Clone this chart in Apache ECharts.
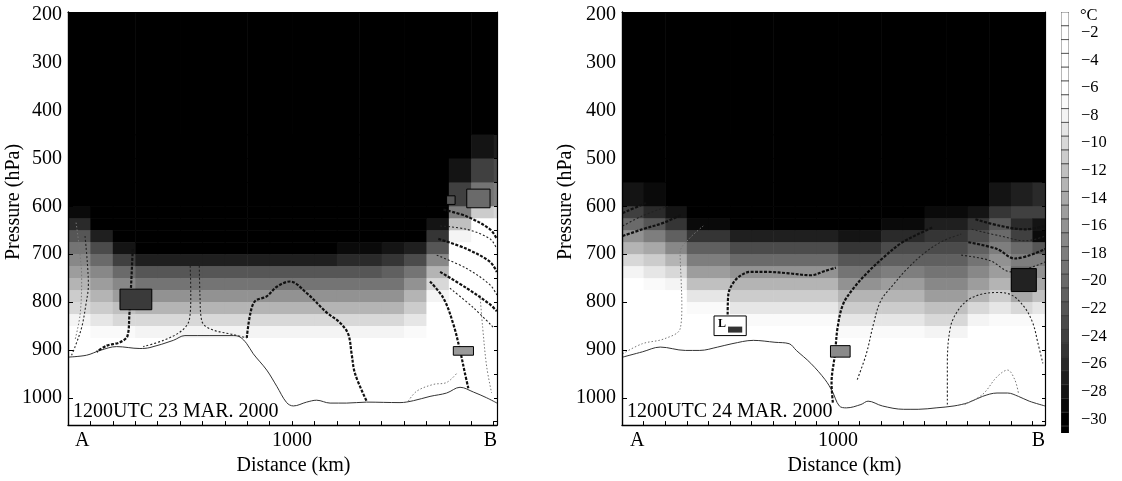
<!DOCTYPE html>
<html>
<head>
<meta charset="utf-8">
<script src="https://cdn.jsdelivr.net/npm/echarts@6/dist/echarts.min.js"></script>
<style>
  html, body { margin: 0; padding: 0; background: #fff; }
  #chart { width: 1122px; height: 481px; }
</style>
</head>
<body>
<div id="chart"></div>
<script>
const FONT = '"Liberation Serif", "Times New Roman", serif'

// cell edges of the shaded temperature field
const distanceEdges = [0, 100, 200, 300, 400, 500, 600, 700, 800, 900, 1000, 1100, 1200, 1300, 1400, 1500, 1600, 1700, 1800, 1900, 2000]
const pressureEdges = [190, 450, 500, 550, 600, 625, 650, 675, 700, 725, 750, 775, 800, 825, 850, 875, 900, 1060]

// temperature (°C), one row per pressure band, one column per 100 km
const tempMar23 = [
  [-32, -32, -32, -32, -32, -32, -32, -32, -32, -32, -32, -32, -32, -32, -32, -32, -32, -32, -32, -32],
  [-32, -32, -32, -32, -32, -32, -32, -32, -32, -32, -32, -32, -32, -32, -32, -32, -32, -31, -28, -27],
  [-32, -32, -32, -32, -32, -32, -32, -32, -32, -32, -32, -32, -32, -32, -32, -32, -32, -28, -24, -23],
  [-31, -32, -32, -32, -32, -32, -32, -32, -32, -32, -32, -32, -32, -32, -32, -32, -31, -24, -19, -18],
  [-29, -31, -32, -32, -32, -32, -32, -32, -32, -32, -32, -32, -32, -32, -32, -32, -30, -18, -11, -10],
  [-26, -30, -32, -32, -32, -32, -32, -32, -32, -32, -32, -32, -32, -32, -32, -31, -28, -12, -6, -6],
  [-22, -27, -31, -32, -32, -32, -32, -32, -32, -32, -32, -32, -32, -32, -31, -30, -25, -8, -4, -4],
  [-19, -23, -28, -30, -30, -30, -30, -30, -30, -30, -30, -30, -29, -29, -28, -27, -22, -6, -4, -3],
  [-17, -20, -24, -27, -27, -27, -27, -27, -27, -27, -27, -27, -26, -26, -25, -23, -17, -5, -3, -3],
  [-15, -17, -20, -22, -22, -22, -22, -22, -22, -22, -22, -22, -22, -22, -21, -19, -13, -4, -3, -3],
  [-13, -15, -17, -19, -19, -19, -19, -19, -19, -19, -19, -19, -19, -19, -19, -16, -10, -4, -2, -2],
  [-11, -13, -15, -16, -16, -16, -16, -16, -16, -16, -16, -16, -16, -16, -16, -13, -8, -3, -2, -2],
  [-10, -11, -12, -13, -13, -13, -13, -13, -13, -13, -13, -13, -13, -13, -13, -11, -6, -3, -2, -2],
  [-8, -9, -10, -10, -10, -10, -10, -10, -10, -10, -10, -10, -10, -10, -10, -9, -5, -3, -2, -2],
  [-6, -7, -7, -8, -8, -8, -8, -8, -8, -8, -8, -8, -8, -8, -8, -7, -4, -2, -2, -2],
  [-4, -5, -5, -5, -5, -5, -5, -5, -5, -5, -5, -5, -5, -5, -5, -5, -3, -2, -2, -2],
  [-3, -3, -3, -3, -3, -3, -3, -3, -3, -3, -3, -3, -3, -3, -3, -3, -3, -3, -3, -3]
]

const tempMar24 = [
  [-32, -32, -32, -32, -32, -32, -32, -32, -32, -32, -32, -32, -32, -32, -32, -32, -32, -32, -32, -32],
  [-32, -32, -32, -32, -32, -32, -32, -32, -32, -32, -32, -32, -32, -32, -32, -32, -32, -32, -32, -32],
  [-32, -32, -32, -32, -32, -32, -32, -32, -32, -32, -32, -32, -32, -32, -32, -32, -32, -32, -32, -32],
  [-28, -29, -31, -32, -32, -32, -32, -32, -32, -32, -32, -32, -32, -32, -32, -32, -31, -28, -27, -26],
  [-24, -26, -28, -31, -31, -32, -32, -32, -32, -32, -32, -32, -31, -31, -29, -29, -28, -25, -24, -24],
  [-20, -22, -25, -29, -29, -30, -30, -30, -30, -30, -30, -30, -29, -29, -27, -27, -25, -22, -26, -28],
  [-16, -18, -21, -25, -25, -27, -27, -27, -27, -27, -28, -28, -26, -26, -25, -25, -23, -20, -24, -29],
  [-13, -14, -17, -21, -21, -23, -23, -23, -23, -23, -25, -25, -23, -23, -23, -23, -21, -18, -20, -22],
  [-10, -11, -13, -18, -18, -20, -20, -20, -20, -20, -22, -22, -21, -21, -21, -21, -19, -16, -18, -18],
  [-8, -9, -10, -15, -15, -16, -16, -16, -16, -16, -19, -19, -18, -18, -19, -19, -17, -15, -20, -16],
  [-6, -7, -8, -12, -12, -13, -13, -13, -13, -13, -16, -16, -15, -15, -17, -17, -15, -13, -22, -14],
  [-4, -5, -6, -9, -9, -11, -11, -11, -11, -11, -13, -13, -13, -13, -15, -15, -13, -11, -14, -12],
  [-4, -4, -5, -7, -7, -9, -9, -9, -9, -9, -11, -11, -11, -11, -12, -12, -10, -9, -10, -9],
  [-3, -4, -4, -5, -5, -7, -7, -7, -7, -7, -9, -9, -9, -9, -10, -10, -8, -7, -7, -7],
  [-3, -3, -3, -4, -4, -5, -5, -5, -5, -5, -7, -7, -7, -7, -8, -8, -6, -5, -5, -5],
  [-3, -3, -3, -3, -3, -4, -4, -4, -4, -4, -5, -5, -5, -5, -6, -6, -5, -4, -4, -4],
  [-3, -3, -3, -3, -3, -3, -3, -3, -3, -3, -3, -3, -3, -3, -3, -3, -3, -3, -3, -3]
]

// colour bar boxes and its labels
const legendLevels = [-1, -2, -3, -4, -5, -6, -7, -8, -9, -10, -11, -12, -13, -14, -15, -16, -17, -18, -19, -20, -21, -22, -23, -24, -25, -26, -27, -28, -29, -30, -31]
const legendTicks = [-2, -4, -6, -8, -10, -12, -14, -16, -18, -20, -22, -24, -26, -28, -30]
const pressureTicks = [200, 300, 400, 500, 600, 700, 800, 900, 1000]
const edgeTicks = [200, 250, 300, 350, 400, 450, 500, 550, 600, 650, 700, 750, 800, 850, 900, 950, 1000, 1050]
const panelLengthKm = [1915, 1958]
const panelTimes = ['1200UTC 23 MAR. 2000', '1200UTC 24 MAR. 2000']

// contour lines, [distance km, pressure hPa]
const groundMar23 = [[0, 915], [83, 911], [143, 901], [217, 893], [321, 897], [366, 895], [470, 880], [522, 870], [738, 870], [768, 873], [798, 887], [827, 908], [887, 942], [932, 976], [976, 1010], [1006, 1017], [1065, 1009], [1110, 1005], [1170, 1011], [1244, 1011], [1333, 1009], [1482, 1010], [1542, 1006], [1616, 997], [1690, 990], [1750, 978], [1810, 988], [1869, 1000], [1915, 1011]]
const isoMar23a = [[76, 662], [86, 716], [91, 764], [80, 805], [61, 853], [31, 894], [16, 911]]
const isoMar23b = [[36, 634], [51, 689], [61, 750], [54, 826], [31, 880]]
const isoMar23c = [[289, 689], [281, 771], [274, 826], [266, 870], [232, 884], [173, 891], [128, 904]]
const isoMar23d = [[545, 716], [548, 785], [542, 836], [507, 860], [426, 880], [336, 893]]
const isoMar23e = [[586, 716], [589, 785], [597, 839], [634, 856], [738, 868], [798, 875]]
const isoMar23f = [[798, 875], [813, 826], [835, 798], [887, 788], [932, 768], [991, 757], [1065, 781], [1155, 822], [1214, 843], [1251, 867], [1266, 908], [1281, 949], [1333, 1007]]
const isoMar23g = [[1616, 757], [1676, 792], [1720, 846], [1750, 901], [1772, 949], [1787, 980]]
const isoMar23h = [[1519, 1007], [1557, 986], [1631, 972], [1690, 968], [1735, 949]]
const isoMar23i = [[1839, 785], [1851, 853], [1869, 935], [1891, 990]]
const fanMar23 = [
  [[1676, 607], [1780, 621], [1884, 648], [1914, 668]],
  [[1661, 641], [1780, 648], [1884, 668], [1914, 689]],
  [[1653, 668], [1780, 689], [1884, 716], [1914, 737]],
  [[1646, 702], [1780, 730], [1884, 764], [1914, 785]],
  [[1661, 737], [1780, 771], [1884, 805], [1914, 819]],
  [[1705, 771], [1810, 812], [1899, 853]]
]

const groundMar24 = [[3, 915], [94, 904], [177, 894], [293, 901], [360, 901], [443, 894], [509, 887], [608, 880], [708, 884], [774, 887], [807, 901], [874, 928], [940, 962], [973, 986], [1006, 1017], [1039, 1021], [1106, 1014], [1139, 1007], [1205, 1017], [1304, 1024], [1371, 1024], [1454, 1021], [1537, 1017], [1603, 1010], [1669, 997], [1736, 990], [1785, 990], [1835, 997], [1885, 1007], [1958, 1017]]
const isoMar24a = [[3, 908], [94, 887], [194, 877], [269, 856], [277, 805], [274, 757], [269, 696], [310, 668], [376, 641]]
const isoMar24b = [[489, 826], [492, 785], [509, 764], [542, 747], [592, 737], [675, 737], [774, 740], [874, 744], [940, 735], [990, 728]]
const isoMar24c = [[976, 1010], [970, 969], [986, 908], [998, 853], [1023, 805], [1072, 771], [1139, 737], [1205, 709], [1288, 678], [1371, 658], [1437, 644]]
const isoMar24d = [[1089, 962], [1131, 908], [1164, 846], [1197, 798], [1255, 764], [1321, 730], [1404, 696], [1487, 672], [1570, 658]]
const isoMar24e = [[1506, 1014], [1506, 928], [1520, 853], [1553, 819], [1603, 795], [1669, 783], [1736, 780], [1802, 785], [1860, 809], [1901, 843], [1926, 887], [1948, 928]]
const isoMar24f = [[1586, 1014], [1669, 993], [1736, 956], [1785, 942], [1818, 962], [1835, 990]]
const fanMar24 = [
  [[1636, 627], [1752, 641], [1868, 648], [1960, 641]],
  [[1619, 648], [1752, 662], [1868, 672], [1960, 662]],
  [[1603, 675], [1736, 689], [1818, 709], [1960, 689]],
  [[1570, 702], [1702, 713], [1802, 737], [1960, 716]],
  [[3, 662], [94, 648], [194, 634], [277, 617]],
  [[3, 641], [94, 620], [211, 600]],
  [[3, 614], [111, 593]]
]

// contour label boxes: [km from, hPa from, km to, hPa to]
const boxesMar23 = [[232, 773, 374, 816], [1780, 564, 1884, 603], [1690, 578, 1728, 596], [1720, 893, 1810, 911]]
const boxFillsMar23 = ['#3a3a3a', '#6a6a6a', '#555', '#9a9a9a']
const boxesMar24 = [[426, 829, 575, 870], [965, 891, 1056, 915], [1802, 730, 1918, 778]]
const boxFillsMar24 = ['#fff', '#8a8a8a', '#222']
const boxTextsMar24 = ['L', '', '']

const grayScale = ['#000', '#000', '#141414', '#2a2a2a', '#404040', '#565656', '#6a6a6a', '#7e7e7e', '#929292', '#a8a8a8', '#c0c0c0', '#d8d8d8', '#f4f4f4', '#fff', '#fff', '#fff', '#fff']

const chart = echarts.init(document.getElementById('chart'), null, { renderer: 'canvas' })

function fieldData(rows) {
  const out = []
  rows.forEach((row, r) => row.forEach((v, c) => out.push([c, r, v])))
  return out
}

function renderCell(params, api) {
  const c = api.value(0)
  const r = api.value(1)
  const a = api.coord([distanceEdges[c], pressureEdges[r]])
  const b = api.coord([distanceEdges[c + 1], pressureEdges[r + 1]])
  return {
    type: 'rect',
    shape: { x: a[0], y: a[1], width: b[0] - a[0] + 0.6, height: b[1] - a[1] + 0.6 },
    style: { fill: api.visual('color') }
  }
}

function renderLegendBox(params, api) {
  const level = api.value(2)
  const a = api.coord([0, level + 0.5])
  const b = api.coord([1, level - 0.5])
  return {
    type: 'rect',
    shape: { x: a[0], y: a[1], width: b[0] - a[0], height: b[1] - a[1] },
    style: { fill: api.visual('color'), stroke: '#333', lineWidth: 0.7 }
  }
}

function boxSeries(panel, boxes, fills, texts) {
  return {
    type: 'custom', xAxisIndex: panel, yAxisIndex: panel, data: boxes, clip: true, silent: true, z: 6,
    renderItem(params, api) {
      const a = api.coord([api.value(0), api.value(1)])
      const b = api.coord([api.value(2), api.value(3)])
      const i = params.dataIndex
      const children = [{
        type: 'rect',
        shape: { x: a[0], y: a[1], width: b[0] - a[0], height: b[1] - a[1] },
        style: { fill: fills[i], stroke: '#000', lineWidth: 1 }
      }]
      if (texts && texts[i]) {
        children.push({ type: 'text', x: a[0] + 4, y: a[1] + 2, style: { text: texts[i], font: 'bold 12px ' + FONT, fill: '#000' } })
        children.push({ type: 'rect', shape: { x: a[0] + 14, y: b[1] - 9, width: (b[0] - a[0]) - 18, height: 6 }, style: { fill: '#333' } })
      }
      return { type: 'group', children }
    }
  }
}

const lineStyles = {
  ground: { color: '#333', width: 1, type: 'solid' },
  thick: { color: '#111', width: 2.2, type: [3, 1.5] },
  thin: { color: '#222', width: 1.1, type: [2, 2] },
  faint: { color: '#777', width: 1, type: [1.5, 2] }
}

function iso(data, panel, kind) {
  return {
    type: 'line',
    xAxisIndex: panel,
    yAxisIndex: panel,
    data,
    symbol: 'none',
    smooth: 0.35,
    silent: true,
    z: 5,
    lineStyle: lineStyles[kind]
  }
}

const textStyle = { fontFamily: FONT, color: '#000' }

function bottomAxis(panel, padA) {
  const max = panelLengthKm[panel]
  return {
    type: 'value', gridIndex: panel, min: 0, max, interval: 100, z: 10,
    axisLine: { show: true, onZero: false, lineStyle: { color: '#000', width: 1.4 } },
    axisTick: { show: true, inside: true, length: 4, lineStyle: { color: '#000', width: 1 } },
    splitLine: { show: false },
    axisLabel: {
      ...textStyle, fontSize: 20, margin: 6,
      customValues: [0, 1000, max],
      alignMinLabel: 'left', alignMaxLabel: 'right',
      formatter: (v) => v === 0 ? '{a|A}' : (v === 1000 ? '1000' : 'B'),
      rich: { a: { ...textStyle, fontSize: 20, padding: [0, 0, 0, padA] } }
    },
    name: 'Distance (km)', nameLocation: 'middle', nameGap: 24,
    nameTextStyle: { ...textStyle, fontSize: 20, padding: [0, 0, 0, 22] }
  }
}

function topAxis(panel) {
  return {
    type: 'value', gridIndex: panel, min: 0, max: panelLengthKm[panel], position: 'top', z: 10,
    axisLine: { show: true, onZero: false, lineStyle: { color: '#000', width: 1.2 } },
    axisTick: { show: false }, axisLabel: { show: false }, splitLine: { show: false }
  }
}

function leftAxis(panel) {
  return {
    type: 'value', gridIndex: panel, inverse: true, min: 194, max: 1057, z: 10,
    axisLine: { show: true, onZero: false, lineStyle: { color: '#000', width: 1.4 } },
    axisTick: { show: true, inside: true, length: 5, customValues: pressureTicks, lineStyle: { color: '#000' } },
    splitLine: { show: false },
    axisLabel: { ...textStyle, fontSize: 20, margin: 6, customValues: pressureTicks, formatter: (v) => String(v) }
  }
}

function rightAxis(panel) {
  return {
    type: 'value', gridIndex: panel, inverse: true, min: 194, max: 1057, position: 'right', z: 10,
    axisLine: { show: true, onZero: false, lineStyle: { color: '#000', width: 1.2 } },
    axisTick: { show: true, inside: true, length: 3, customValues: edgeTicks, lineStyle: { color: '#000' } },
    axisLabel: { show: false }, splitLine: { show: false }
  }
}

const series = [
  { type: 'custom', xAxisIndex: 0, yAxisIndex: 0, data: fieldData(tempMar23), renderItem: renderCell, clip: true, silent: true, z: 1 },
  { type: 'custom', xAxisIndex: 1, yAxisIndex: 1, data: fieldData(tempMar24), renderItem: renderCell, clip: true, silent: true, z: 1 },
  { type: 'custom', xAxisIndex: 2, yAxisIndex: 2, data: legendLevels.map((l) => [0, l, l]), renderItem: renderLegendBox, clip: true, silent: true, z: 1 },

  iso(groundMar23, 0, 'ground'),
  iso(isoMar23a, 0, 'thin'),
  iso(isoMar23b, 0, 'faint'),
  iso(isoMar23c, 0, 'thick'),
  iso(isoMar23d, 0, 'thin'),
  iso(isoMar23e, 0, 'thin'),
  iso(isoMar23f, 0, 'thick'),
  iso(isoMar23g, 0, 'thick'),
  iso(isoMar23h, 0, 'faint'),
  iso(isoMar23i, 0, 'faint'),
  ...fanMar23.map((d, i) => iso(d, 0, i % 2 ? 'thin' : 'thick')),
  boxSeries(0, boxesMar23, boxFillsMar23),

  iso(groundMar24, 1, 'ground'),
  iso(isoMar24a, 1, 'faint'),
  iso(isoMar24b, 1, 'thick'),
  iso(isoMar24c, 1, 'thick'),
  iso(isoMar24d, 1, 'thin'),
  iso(isoMar24e, 1, 'thin'),
  iso(isoMar24f, 1, 'faint'),
  ...fanMar24.map((d, i) => iso(d, 1, i % 2 ? 'thin' : 'thick')),
  boxSeries(1, boxesMar24, boxFillsMar24, boxTextsMar24)
]

chart.setOption({
  animation: false,
  backgroundColor: '#fff',
  grid: [
    { left: 68, top: 12, width: 429, height: 421 },
    { left: 622, top: 12, width: 423, height: 421 },
    { left: 1061, top: 12, width: 8, height: 421 }
  ],
  xAxis: [
    bottomAxis(0, 7),
    bottomAxis(1, 8),
    { type: 'value', gridIndex: 2, min: 0, max: 1, show: false },
    topAxis(0),
    topAxis(1)
  ],
  yAxis: [
    leftAxis(0),
    leftAxis(1),
    {
      type: 'value', gridIndex: 2, min: -31, max: -0.5, position: 'right', z: 10,
      axisLine: { show: false }, axisTick: { show: false }, splitLine: { show: false },
      axisLabel: { ...textStyle, fontSize: 16.5, margin: 12, customValues: legendTicks, formatter: (v) => '\u2212' + Math.abs(v) }
    },
    rightAxis(0),
    rightAxis(1)
  ],
  visualMap: {
    type: 'continuous', show: false, seriesIndex: [0, 1, 2], dimension: 2,
    min: -32, max: 0, inRange: { color: grayScale }
  },
  graphic: [
    { type: 'text', x: 73, y: 412, z: 20, style: { text: panelTimes[0], font: '20px ' + FONT, fill: '#000', verticalAlign: 'middle' } },
    { type: 'text', x: 627, y: 412, z: 20, style: { text: panelTimes[1], font: '20px ' + FONT, fill: '#000', verticalAlign: 'middle' } },
    { type: 'text', x: 14, y: 202, rotation: Math.PI / 2, style: { text: 'Pressure (hPa)', font: '20px ' + FONT, fill: '#000', align: 'center', verticalAlign: 'middle' } },
    { type: 'text', x: 566, y: 202, rotation: Math.PI / 2, style: { text: 'Pressure (hPa)', font: '20px ' + FONT, fill: '#000', align: 'center', verticalAlign: 'middle' } },
    { type: 'text', x: 1080, y: 16, style: { text: '°C', font: '16.5px ' + FONT, fill: '#000', verticalAlign: 'middle' } }
  ],
  series
})

window.addEventListener('resize', () => chart.resize())
</script>
</body>
</html>
